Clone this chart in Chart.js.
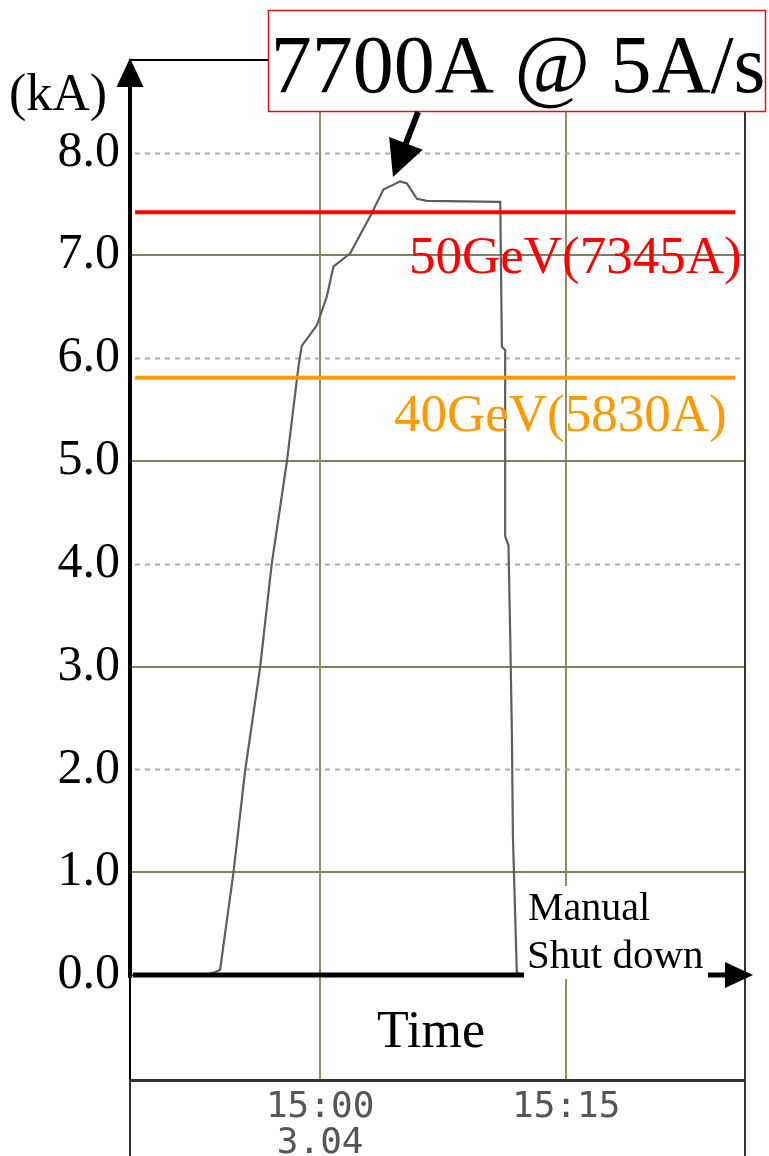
<!DOCTYPE html>
<html><head><meta charset="utf-8">
<script src="https://cdn.jsdelivr.net/npm/chart.js@4.4.1/dist/chart.umd.min.js"></script>
<style>html,body{margin:0;padding:0;background:#fff;} #wrap{width:769px;height:1156px;position:relative;}</style>
</head><body><div id="wrap"><canvas id="c" width="769" height="1156"></canvas></div>
<script>
// minutes relative to 15:00 (3.04)
const timeMin = [-11.59, -7.0, -6.4, -6.1, -5.29, -4.57, -3.66, -2.95, -2.03, -1.32, -1.12, -0.2, 0.41, 0.81, 1.83, 3.05, 3.86, 4.88, 5.29, 5.9, 6.51, 10.98, 11.08, 11.28, 11.28, 11.48, 11.59, 11.69, 11.75, 11.89, 11.99, 12.2];
const currentKA = [0, 0, 0.03, 0.05, 0.99, 1.99, 2.99, 4.0, 4.99, 5.92, 6.12, 6.32, 6.6, 6.89, 7.02, 7.38, 7.64, 7.72, 7.7, 7.55, 7.53, 7.52, 6.11, 6.08, 4.27, 4.18, 3.29, 2.34, 1.36, 0.58, 0.03, 0];
const yTicks = [0, 1, 2, 3, 4, 5, 6, 7, 8];
const xTicks = [0, 15];
const xTickLabels = [['15:00', '3.04'], '15:15'];
const refLineX = [-11.28, 25.3];
const ref50GeV = [7.42, 7.42];
const ref40GeV = [5.81, 5.81];
const label50 = '50GeV(7345A)';
const label40 = '40GeV(5830A)';
const peakLabel = '7700A @ 5A/s';
const yUnit = '(kA)';
const xTitle = 'Time';
const noteLines = ['Manual', 'Shut down'];

const SERIF = '"Liberation Serif", "Times New Roman", serif';

function arrowHead(ctx, tx, ty, dx, dy, len, half) {
  const n = Math.hypot(dx, dy); dx /= n; dy /= n;
  const bx = tx - dx * len, by = ty - dy * len;
  const px = -dy, py = dx;
  ctx.beginPath();
  ctx.moveTo(tx, ty);
  ctx.lineTo(bx + px * half, by + py * half);
  ctx.lineTo(bx - px * half, by - py * half);
  ctx.closePath();
  ctx.fill();
}

const decor = {
  id: 'decor',
  beforeDatasetsDraw(chart) {
    const ctx = chart.ctx, y = chart.scales.y, a = chart.chartArea;
    ctx.save();
    ctx.strokeStyle = '#acacac';
    ctx.lineWidth = 2;
    ctx.setLineDash([5, 5]);
    yTicks.filter(v => v > 0 && v % 2 === 0).forEach(v => {
      const py = Math.round(y.getPixelForValue(v)) + 0.5;
      ctx.beginPath(); ctx.moveTo(a.left + 5, py); ctx.lineTo(a.right - 4, py); ctx.stroke();
    });
    ctx.restore();
  },
  afterDraw(chart) {
    const ctx = chart.ctx, x = chart.scales.x, y = chart.scales.y, a = chart.chartArea;
    const y0 = y.getPixelForValue(0);
    ctx.save();
    // frame
    ctx.strokeStyle = '#000'; ctx.lineWidth = 2;
    ctx.beginPath(); ctx.moveTo(a.left, 60); ctx.lineTo(a.right, 60); ctx.stroke();
    ctx.strokeStyle = '#333';
    ctx.beginPath(); ctx.moveTo(a.right, 60); ctx.lineTo(a.right, 1156); ctx.stroke();
    ctx.beginPath(); ctx.moveTo(a.left, a.bottom); ctx.lineTo(a.left, 1156); ctx.stroke();

    // time baseline
    ctx.strokeStyle = '#000'; ctx.fillStyle = '#000'; ctx.lineWidth = 5;
    ctx.beginPath(); ctx.moveTo(a.left + 3, y0); ctx.lineTo(730, y0); ctx.stroke();
    arrowHead(ctx, 753, y0, 1, 0, 28, 13);

    // note box
    ctx.fillStyle = '#fff';
    ctx.fillRect(524, 886, 184, 93);
    ctx.fillStyle = '#000';
    ctx.textAlign = 'left'; ctx.textBaseline = 'alphabetic';
    ctx.font = '40px ' + SERIF;
    ctx.fillText(noteLines[0], 528, 920);
    ctx.font = '41px ' + SERIF;
    ctx.fillText(noteLines[1], 527, 968);

    // y axis thick with arrow
    ctx.lineWidth = 4; ctx.strokeStyle = '#000';
    ctx.beginPath(); ctx.moveTo(a.left, y0 + 3); ctx.lineTo(a.left, 82); ctx.stroke();
    arrowHead(ctx, a.left, 58, 0, -1, 29, 13.5);

    // unit
    ctx.font = '52px ' + SERIF;
    ctx.textAlign = 'left';
    ctx.fillText(yUnit, 9, 110);

    // x title
    ctx.textAlign = 'center';
    ctx.fillText(xTitle, 431, 1047);

    // reference labels
    ctx.textAlign = 'left';
    ctx.font = '53px ' + SERIF;
    ctx.fillStyle = '#ff0000';
    ctx.fillText(label50, 409, 273);
    ctx.fillStyle = '#ff9900';
    ctx.fillText(label40, 394, 431);

    // peak annotation
    ctx.fillStyle = '#fff';
    ctx.fillRect(268, 10, 498, 102);
    ctx.strokeStyle = '#e01010'; ctx.lineWidth = 1.5;
    ctx.strokeRect(268.5, 10.5, 497, 101);
    ctx.fillStyle = '#000';
    ctx.font = '82px ' + SERIF;
    ctx.textAlign = 'center';
    ctx.fillText(peakLabel, 518, 92);

    // arrow to peak
    const tipX = 393, tipY = 177, sx = 418, sy = 112;
    ctx.strokeStyle = '#000'; ctx.lineWidth = 6;
    const dx = tipX - sx, dy = tipY - sy, n = Math.hypot(dx, dy);
    ctx.beginPath(); ctx.moveTo(sx, sy); ctx.lineTo(tipX - dx / n * 30, tipY - dy / n * 30); ctx.stroke();
    arrowHead(ctx, tipX, tipY, dx, dy, 36, 18);
    ctx.restore();
  }
};

const toPts = (xs, ys) => xs.map((v, i) => ({ x: v, y: ys[i] }));

new Chart(document.getElementById('c'), {
  type: 'line',
  data: {
    datasets: [
      { data: toPts(refLineX, ref50GeV), borderColor: '#ff0000', borderWidth: 4, pointRadius: 0, borderCapStyle: 'butt' },
      { data: toPts(refLineX, ref40GeV), borderColor: '#ff9900', borderWidth: 4, pointRadius: 0, borderCapStyle: 'butt' },
      { data: toPts(timeMin, currentKA), borderColor: '#5e5e5e', borderWidth: 2.2, pointRadius: 0, tension: 0 }
    ]
  },
  options: {
    responsive: false,
    animation: false,
    layout: { padding: { left: 0, right: 24, top: 60, bottom: 0 } },
    plugins: { legend: { display: false }, tooltip: { enabled: false } },
    scales: {
      x: {
        type: 'linear', min: -11.59, max: 25.9,
        afterBuildTicks: s => { s.ticks = xTicks.map(v => ({ value: v })); },
        afterFit: s => { s.height = 76; },
        ticks: {
          autoSkip: false, maxRotation: 0, padding: 10,
          color: '#555',
          font: { family: '"DejaVu Sans Mono", monospace', size: 36, lineHeight: 1.0 },
          callback: v => { const i = xTicks.indexOf(v); return i >= 0 ? xTickLabels[i] : ''; }
        },
        grid: { color: '#8e8e62', lineWidth: 2, drawTicks: false },
        border: { display: true, color: '#333', width: 3 }
      },
      y: {
        type: 'linear', min: -1.02, max: 8.9,
        afterBuildTicks: s => { s.ticks = yTicks.map(v => ({ value: v })); },
        afterFit: s => { s.width = 130; },
        ticks: {
          padding: 10, color: '#000',
          font: { family: SERIF, size: 50 },
          callback: v => v.toFixed(1)
        },
        grid: {
          drawTicks: false, lineWidth: 2,
          color: c => (c.tick && c.tick.value % 2 === 1) ? '#80805a' : 'rgba(0,0,0,0)'
        },
        border: { display: true, color: '#000', width: 2 }
      }
    }
  },
  plugins: [decor]
});
</script>
</body></html>
